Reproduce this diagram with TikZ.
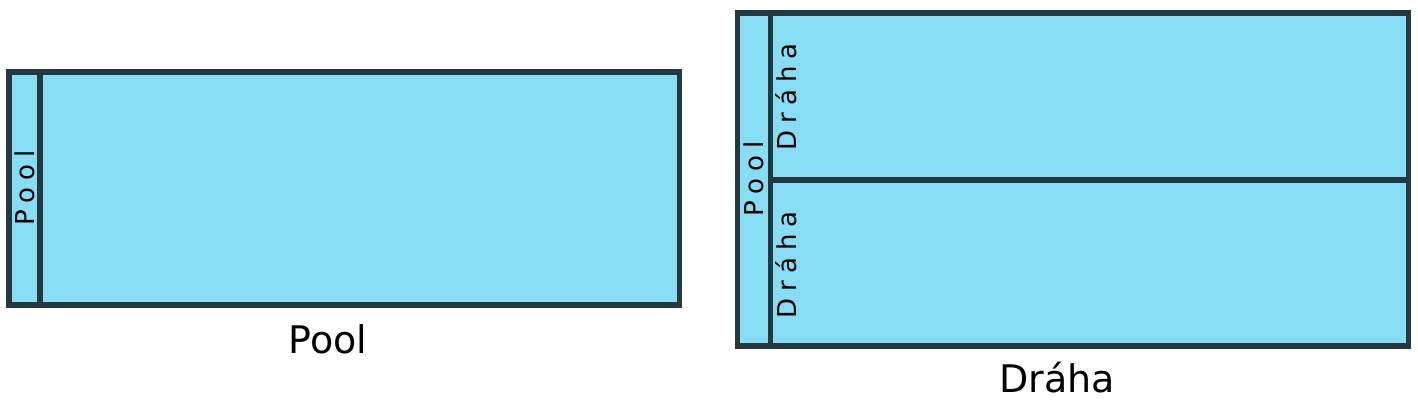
\documentclass[tikz,border=0pt]{standalone}
\usepackage{xcolor}
\usepackage{fontspec}
\setmainfont{DejaVu Sans}
\newfontfamily\lanefont[LetterSpace=27]{DejaVu Sans}
\usepackage{tikz}
\usetikzlibrary{positioning}

\definecolor{water}{RGB}{135,221,244}
\definecolor{edge}{RGB}{36,56,64}

\begin{document}
\begin{tikzpicture}[x=0.5pt, y=0.5pt,
  poolline/.style={draw=edge, line width=2.75pt},
  lanetext/.style={rotate=90, inner sep=0pt, font=\lanefont\fontsize{13}{15}\selectfont},
  caption/.style={anchor=base, inner sep=0pt, font=\fontsize{19}{22}\selectfont}]
\useasboundingbox (0,0) rectangle (1418,404);

% single pool
\draw[poolline, fill=water] (8.75,99) rectangle (679.5,332);
\draw[poolline] (40.2,99) -- (40.2,332);
\node (poolA) [lanetext] at (24.5,216) {Pool};
\node (capA) [caption] at (328,51) {Pool};

% pool split into lanes
\draw[poolline, fill=water] (737.5,58) rectangle (1408.5,391);
\draw[poolline] (770.5,58) -- (770.5,391);
\draw[poolline] (770.5,224) -- (1408.5,224);
\node (poolB) [lanetext] at (754,225) {Pool};
\node (laneTop) [lanetext, anchor=north] at (775.5,307) {Dráha};
\node (laneBot) [lanetext, anchor=north] at (775.5,139) {Dráha};
\node (capB) [caption] at (1057,12) {Dráha};
\end{tikzpicture}
\end{document}
